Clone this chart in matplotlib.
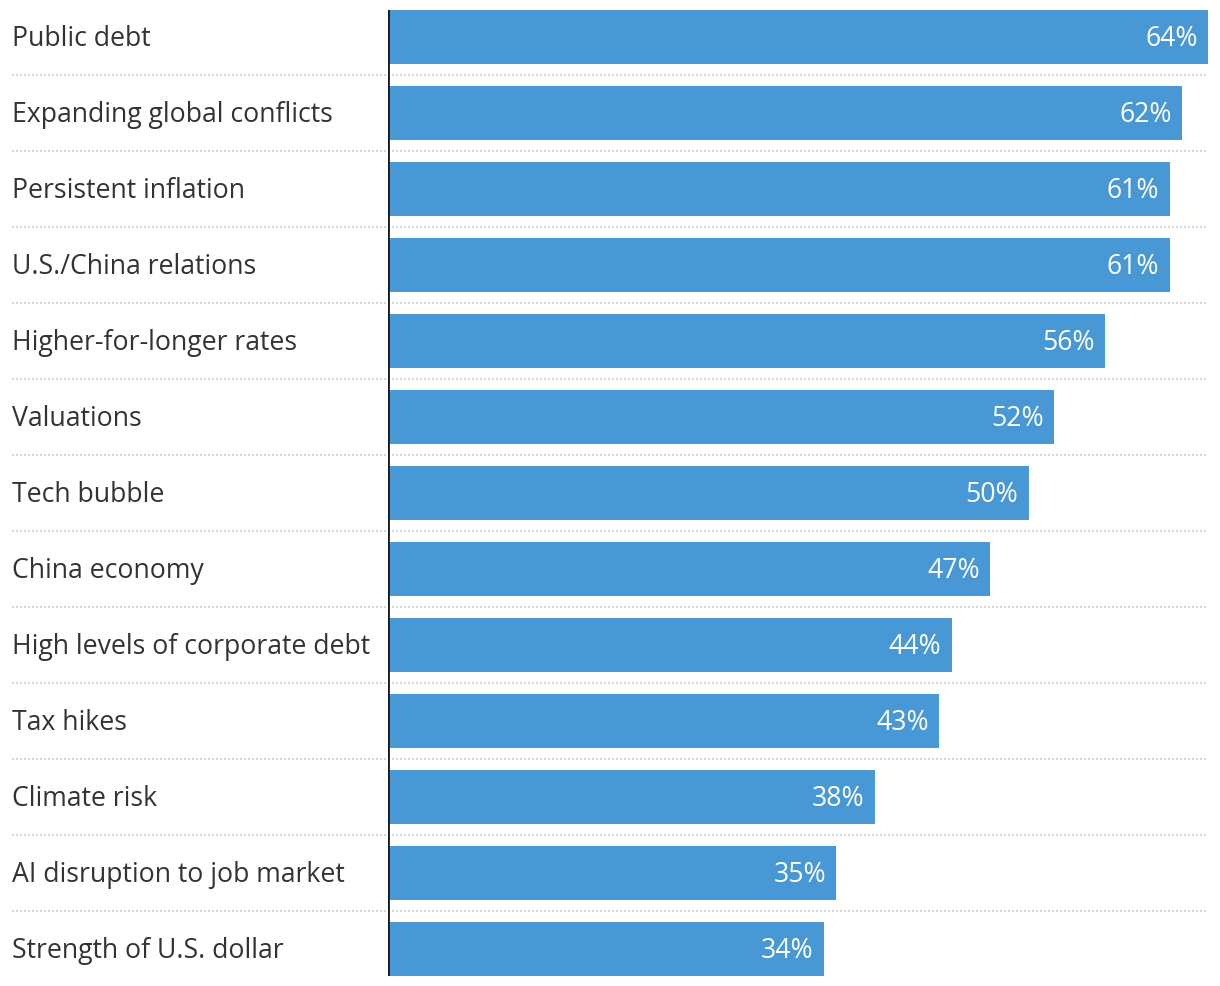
import matplotlib.pyplot as plt

# データ
categories = ["Public debt", "Expanding global conflicts", "Persistent inflation",
              "U.S./China relations", "Higher-for-longer rates", "Valuations",
              "Tech bubble", "China economy", "High levels of corporate debt",
              "Tax hikes", "Climate risk", "AI disruption to job market",
              "Strength of U.S. dollar"]
values = [64, 62, 61, 61, 56, 52, 50, 47, 44, 43, 38, 35, 34]

W, H = 1220, 986
fig = plt.figure(figsize=(W / 100, H / 100), dpi=100)
plt.rcParams['font.family'] = ['Open Sans', 'DejaVu Sans']

# 軸の位置（ピクセル基準）
left, right, top, bottom = 388, 1208, 10, 976
ax = fig.add_axes([left / W, (H - bottom) / H, (right - left) / W, (bottom - top) / H])

n = len(categories)
ypos = list(range(n))
ax.barh(ypos, values, height=0.71, color='#4898d6', zorder=2)
ax.set_xlim(0, max(values))
ax.set_ylim(n - 0.645, -0.355)

# 区切り線（点線）
for i in range(n - 1):
    ax.axhline(i + 0.5, xmin=(12 - left) / (right - left), xmax=1, color='#cfcfcf',
               linestyle=(0, (1.2, 1.2)), linewidth=1.2, clip_on=False, zorder=1)

# ラベルと値
for i, (c, v) in enumerate(zip(categories, values)):
    ax.text(-(left - 12) / (right - left) * max(values), i + 0.02, c, ha='left', va='center',
            fontsize=19.2, color='#333333')
    ax.text(v - 0.8, i + 0.02, f"{v}%", ha='right', va='center', fontsize=19.2, color='white')

# 左の軸線
ax.axvline(0, color='#1a1a1a', linewidth=2, zorder=3)
for s in ax.spines.values():
    s.set_visible(False)
ax.set_xticks([])
ax.set_yticks([])

fig.savefig('out.png', dpi=100)
